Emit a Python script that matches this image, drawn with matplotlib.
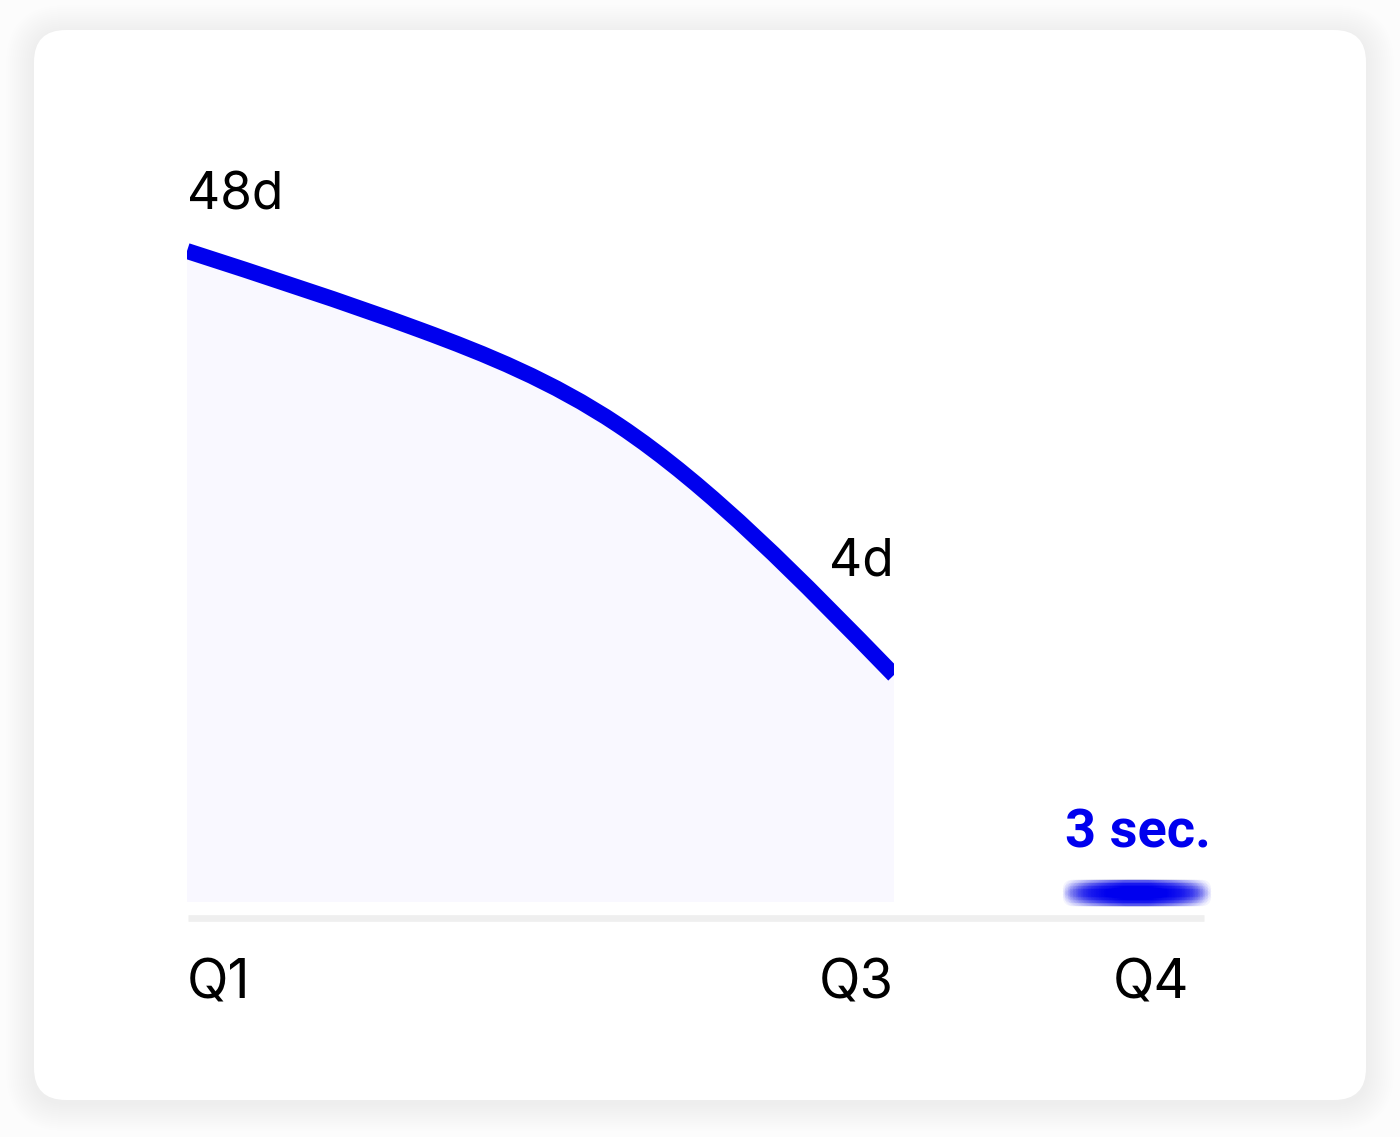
import numpy as np
import matplotlib
matplotlib.use("Agg")
import matplotlib.pyplot as plt
from matplotlib.path import Path
from matplotlib.patches import PathPatch, FancyBboxPatch, Rectangle

plt.rcParams['font.family'] = ['Inter', 'DejaVu Sans']

# quarters shown on the x axis and where they sit
quarters = ["Q1", "Q3", "Q4"]
quarter_pos = [1.0, 3.0, 3.69]
value_labels = ["48d", "4d", "3 sec."]

# line (visual height above the baseline), Q1 -> Q3
line_x = [1.0, 1.66, 2.22, 3.0]
line_y = [65.1, 57.2, 47.7, 22.7]

# the tiny Q4 value
q4_x = [3.58, 3.79]
q4_y = [1.0, 1.0]

BLUE = '#0000ee'
FILL = '#f9f8ff'
GRID = '#efefef'


def smooth_path(xs, ys):
    # natural cubic spline through the points, written as bezier segments
    xs = np.asarray(xs, float)
    ys = np.asarray(ys, float)
    n = len(xs)
    h = np.diff(xs)
    s = np.diff(ys) / h
    A = np.zeros((n, n))
    b = np.zeros(n)
    A[0, 0] = A[-1, -1] = 1
    for i in range(1, n - 1):
        A[i, i - 1] = h[i - 1]
        A[i, i] = 2 * (h[i - 1] + h[i])
        A[i, i + 1] = h[i]
        b[i] = 6 * (s[i] - s[i - 1])
    M = np.linalg.solve(A, b)
    verts = [(xs[0], ys[0])]
    codes = [Path.MOVETO]
    for i in range(n - 1):
        m0 = s[i] - h[i] * (2 * M[i] + M[i + 1]) / 6
        m1 = s[i] + h[i] * (M[i] + 2 * M[i + 1]) / 6
        d = h[i] / 3
        verts += [(xs[i] + d, ys[i] + m0 * d),
                  (xs[i + 1] - d, ys[i + 1] - m1 * d),
                  (xs[i + 1], ys[i + 1])]
        codes += [Path.CURVE4] * 3
    return verts, codes


fig = plt.figure(figsize=(14, 11.37), dpi=100)
fig.patch.set_facecolor('#fcfcfc')

# card background with a soft shadow
bg = fig.add_axes([0, 0, 1, 1], zorder=0)
bg.set_xlim(0, 1400)
bg.set_ylim(1137, 0)
bg.axis('off')
for i in range(28, 0, -2):
    bg.add_patch(FancyBboxPatch((34 - i, 33 - i), 1332 + 2 * i, 1070 + 2 * i,
                                boxstyle=f"round,pad=0,rounding_size={32 + i}",
                                facecolor='black', edgecolor='none', alpha=0.0045))
bg.add_patch(FancyBboxPatch((34, 30), 1332, 1070,
                            boxstyle="round,pad=0,rounding_size=32",
                            facecolor='white', edgecolor='none'))

ax = fig.add_axes([187 / 1400, 135 / 1137, 1017 / 1400, 850 / 1137], zorder=1)
ax.set_facecolor('none')
ax.set_xlim(1.0, 3.877)
ax.set_ylim(-10, 75)
ax.axis('off')

verts, codes = smooth_path(line_x, line_y)

# area under the line
fill_verts = verts + [(line_x[-1], 0), (line_x[0], 0), (line_x[0], line_y[0])]
fill_codes = codes + [Path.LINETO, Path.LINETO, Path.CLOSEPOLY]
ax.add_patch(PathPatch(Path(fill_verts, fill_codes), facecolor=FILL,
                       edgecolor='none', zorder=1))

# the line, cut straight at both ends
line = PathPatch(Path(verts, codes), facecolor='none', edgecolor=BLUE,
                 lw=11.5, capstyle='butt', zorder=3)
ax.add_patch(line)
clip = Rectangle((line_x[0], -20), line_x[-1] - line_x[0], 120,
                 transform=ax.transData, visible=False)
ax.add_patch(clip)
line.set_clip_path(clip)

# baseline
ax.plot([1.003, 3.877], [-1.6, -1.6], color=GRID, lw=4.8,
        solid_capstyle='butt', zorder=2, clip_on=False)

# blurred Q4 stroke
for dx in np.linspace(-0.08, 0.08, 23):
    for dy in (-0.45, -0.15, 0.15, 0.45):
        ax.plot([q4_x[0] + dx, q4_x[1] + dx], [q4_y[0] + dy, q4_y[1] + dy],
                color=BLUE, lw=12.5, alpha=0.045, solid_capstyle='round',
                zorder=3, clip_on=False)

# value labels
ax.text(quarter_pos[0], 69.2, value_labels[0], fontsize=37, ha='left',
        va='baseline', color='black')
ax.text(quarter_pos[1], 32.7, value_labels[1], fontsize=37, ha='right',
        va='baseline', color='black')
ax.text(3.897, 5.5, value_labels[2], fontsize=39, fontweight='bold',
        family=['Roboto', 'DejaVu Sans'],
        ha='right', va='baseline', color=BLUE, clip_on=False)

# quarter labels
ax.text(quarter_pos[0], -9.6, quarters[0], fontsize=39, ha='left', va='baseline')
ax.text(3.0, -9.6, quarters[1], fontsize=39, ha='right', va='baseline')
ax.text(3.618, -9.6, quarters[2], fontsize=39, ha='left', va='baseline')

fig.savefig('out.png', dpi=100, facecolor=fig.get_facecolor())
